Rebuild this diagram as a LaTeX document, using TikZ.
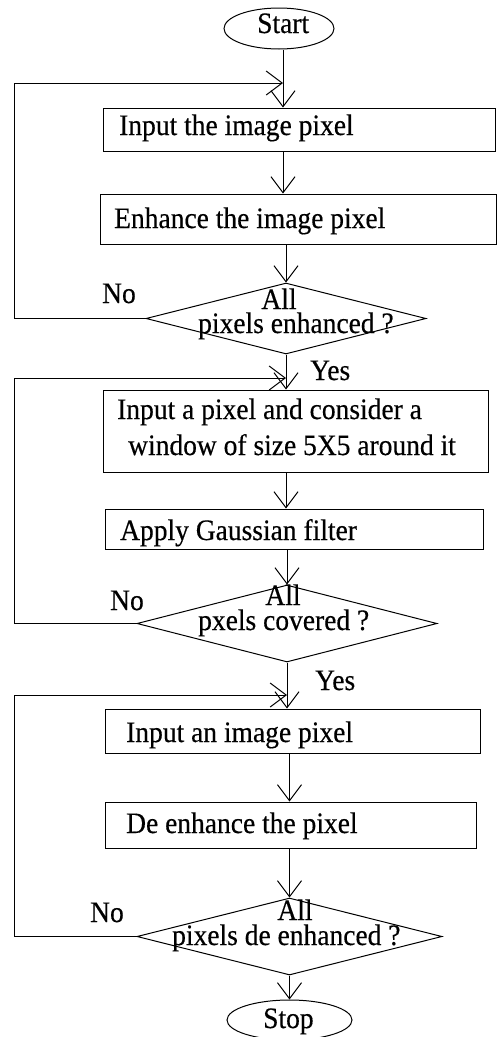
\documentclass[tikz,border=0pt]{standalone}
\usepackage{graphicx}
\usepackage{fontspec}
\setmainfont{Liberation Serif}[FakeBold=0.4]
\usetikzlibrary{arrows.meta,shapes.geometric}
\newcommand\vtx[1]{\scalebox{1}[1.08]{#1}}
\begin{document}
\begin{tikzpicture}[x=1pt,y=-1pt,
  every node/.style={font=\fontsize{27.5}{36}\selectfont, inner sep=0pt},
  ln/.style={line width=1pt, draw=black},
  arr/.style={ln, -{Straight Barb[length=16pt,width=24pt,line width=1pt]}},
  term/.style={ellipse, ln},
  dec/.style={diamond, ln},
  pbox/.style={rectangle, ln},
  lt/.style={anchor=base west},
  ct/.style={anchor=base}
]
\useasboundingbox (0,0) rectangle (497,1037);
% terminals
\node[term, minimum width=110, minimum height=41] (start) at (279,28.5) {};
\node[term, minimum width=125, minimum height=40] (stop) at (289.5,1020) {};
\node[lt] (tstart) at (257,33) {\vtx{Start}};
\node[lt] (tstop) at (263,1028) {\vtx{Stop}};
% boxes
\node[pbox, minimum width=392, minimum height=43] (b1) at (299,129.5) {};
\node[pbox, minimum width=396, minimum height=50] (b2) at (298,219) {};
\node[pbox, minimum width=385, minimum height=82] (b3) at (295.5,431) {};
\node[pbox, minimum width=378, minimum height=40] (b4) at (294,529) {};
\node[pbox, minimum width=375, minimum height=44] (b5) at (292.5,731) {};
\node[pbox, minimum width=371, minimum height=46] (b6) at (290.5,825) {};
% box texts
\node[lt] (t1) at (119,135) {\vtx{Input the image pixel}};
\node[lt] (t2) at (114,228) {\vtx{Enhance the image pixel}};
\node[lt] (t3a) at (117,419) {\vtx{Input a pixel and consider a}};
\node[lt] (t3b) at (128,455) {\vtx{window of size 5X5 around it}};
\node[lt] (t4) at (120,540) {\vtx{Apply Gaussian filter}};
\node[lt] (t5) at (126,742) {\vtx{Input an image pixel}};
\node[lt] (t6) at (126,833) {\vtx{De enhance the pixel}};
% decisions
\node[dec, minimum width=280, minimum height=71] (d1) at (286,318.5) {};
\node[dec, minimum width=300, minimum height=77] (d2) at (287,623.5) {};
\node[dec, minimum width=305, minimum height=77] (d3) at (289.5,936.5) {};
% decision texts
\node[ct] (d1a) at (279,309) {\vtx{All}};
\node[lt] (d1b) at (198,333) {\vtx{pixels enhanced ?}};
\node[ct] (d2a) at (283,605) {\vtx{All}};
\node[lt] (d2b) at (198,630) {\vtx{pxels covered ?}};
\node[ct] (d3a) at (295,920) {\vtx{All}};
\node[lt] (d3b) at (172,945) {\vtx{pixels de enhanced ?}};
% labels
\node[lt] (no1) at (102,303) {\vtx{No}};
\node[lt] (yes1) at (310,380) {\vtx{Yes}};
\node[lt] (no2) at (110,610) {\vtx{No}};
\node[lt] (yes2) at (315,690) {\vtx{Yes}};
\node[lt] (no3) at (90,922) {\vtx{No}};
% junctions
\coordinate (L) at (14,0);
\coordinate (j1) at (283,83);
\coordinate (j2) at (286,378);
\coordinate (j3) at (287,695);
% main flow
\draw[ln] (start.south -| j1) -- (j1);
\draw[arr] (j1) -- (j1 |- b1.north);
\draw[arr] (b1.south -| j1) -- (b2.north -| j1);
\draw[arr] (b2.south -| d1.north) -- (d1.north);
\draw[ln] (d1.south) -- (j2);
\draw[arr] (j2) -- (j2 |- b3.north);
\draw[arr] (b3.south -| j2) -- (b4.north -| j2);
\draw[arr] (b4.south -| d2.north) -- (d2.north);
\draw[ln] (d2.south) -- (j3);
\draw[arr] (j3) -- (j3 |- b5.north);
\draw[arr] (b5.south -| d3.north) -- (b6.north -| d3.north);
\draw[arr] (b6.south -| d3.north) -- (d3.north);
\draw[arr] (d3.south) -- (stop.north);
% loops
\draw[arr] (d1.west) -- (L |- d1.west) -- (L |- j1) -- (j1);
\draw[arr] (d2.west) -- (L |- d2.west) -- (L |- j2) -- (j2);
\draw[arr] (d3.west) -- (L |- d3.west) -- (L |- j3) -- (j3);
\end{tikzpicture}
\end{document}
